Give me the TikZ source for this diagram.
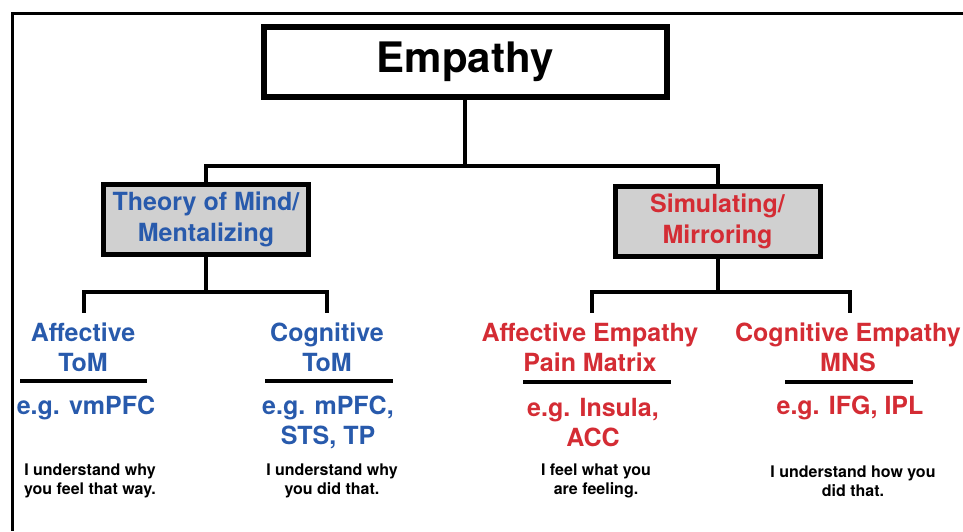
\documentclass[tikz,border=0pt]{standalone}
\usepackage{fontspec}
\setmainfont{TeX Gyre Heros}
\definecolor{tomblue}{RGB}{40,90,172}
\definecolor{simred}{RGB}{212,44,52}
\definecolor{boxgray}{RGB}{208,208,208}
\tikzset{
  conn/.style={line width=4pt},
  titlebox/.style={draw, line width=6pt, fill=white, minimum width=403pt, minimum height=70pt, inner sep=0pt, font=\fontsize{42}{48}\selectfont\bfseries},
  branchbox/.style={draw, line width=5pt, fill=boxgray, minimum width=205pt, minimum height=70pt, inner sep=0pt, align=center, font=\fontsize{25}{31}\selectfont\bfseries},
  head/.style={align=center, inner sep=0pt, font=\fontsize{25}{30}\selectfont\bfseries},
  note/.style={align=center, inner sep=0pt, font=\fontsize{16}{19.5}\selectfont\bfseries, text=black},
  rulebar/.style={line width=4pt},
  frameline/.style={line width=3pt}
}
\begin{document}
\begin{tikzpicture}[x=1pt,y=-1pt]
\useasboundingbox (0,0) rectangle (963,531);
% frame
\coordinate (f1) at (963,13);
\coordinate (f2) at (12,13);
\coordinate (f3) at (12,531);
\draw[frameline] (f1) -- (f2) -- (f3);

\node[titlebox] (empathy) at (465,62) {Empathy};
\node[branchbox, text=tomblue] (tom) at (206,219.5) {Theory of Mind/\\Mentalizing};
\node[branchbox, text=simred] (sim) at (717.5,221) {Simulating/\\Mirroring};

\draw[conn] (empathy.south) -- ++(0,66) -| (tom.north);
\draw[conn] (empathy.south) ++(0,66) -| (sim.north);

% drop points
\coordinate (d1) at (84,313);
\coordinate (d2) at (327,313);
\coordinate (d3) at (592,313);
\coordinate (d4) at (850,313);
\draw[conn] (tom.south) -- ++(0,35) -| (d1);
\draw[conn] (tom.south) ++(0,35) -| (d2);
\draw[conn] (sim.south) -- ++(0,33) -| (d3);
\draw[conn] (sim.south) ++(0,33) -| (d4);

% headings
\node[head, text=tomblue] (h1) at (83,347) {Affective\\ToM};
\node[head, text=tomblue] (h2) at (327,347) {Cognitive\\ToM};
\node[head, text=simred] (h3) at (590,347) {Affective Empathy\\Pain Matrix};
\node[head, text=simred] (h4) at (848,347) {Cognitive Empathy\\MNS};

% rules
\coordinate (r1a) at (20,381); \coordinate (r1b) at (147,381);
\coordinate (r2a) at (265,381); \coordinate (r2b) at (393,381);
\coordinate (r3a) at (523,382); \coordinate (r3b) at (671,382);
\coordinate (r4a) at (785,382); \coordinate (r4b) at (913,382);
\draw[rulebar] (r1a) -- (r1b);
\draw[rulebar] (r2a) -- (r2b);
\draw[rulebar] (r3a) -- (r3b);
\draw[rulebar] (r4a) -- (r4b);

% examples
\node[head, text=tomblue] (e1) at (86,408) {e.g. vmPFC};
\node[head, text=tomblue] (e2) at (328,422.5) {e.g. mPFC,\\STS, TP};
\node[head, text=simred] (e3) at (593,422.5) {e.g. Insula,\\ACC};
\node[head, text=simred] (e4) at (850,408) {e.g. IFG, IPL};

% notes
\node[note] (n1) at (90,481) {I understand why\\you feel that way.};
\node[note] (n2) at (332,481) {I understand why\\you did that.};
\node[note] (n3) at (596,481) {I feel what you\\are feeling.};
\node[note] (n4) at (853,481) {I understand how you\\did that.};
\end{tikzpicture}
\end{document}
